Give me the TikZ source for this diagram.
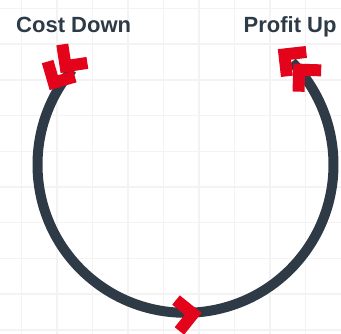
\documentclass[tikz,border=0pt]{standalone}
\usepackage{fontspec}
\setmainfont{Liberation Sans}
\definecolor{darkslate}{HTML}{2E3A46}
\definecolor{chevred}{HTML}{E3031B}
\definecolor{gridgray}{HTML}{F3F3F3}
\begin{document}
\begin{tikzpicture}[x=1pt,y=1pt,
  gridline/.style={draw=gridgray,line width=1.5pt},
  ring/.style={draw=darkslate,line width=10pt,line cap=butt},
  label/.style={font=\bfseries\fontsize{22}{26}\selectfont,text=darkslate,inner sep=0pt},
  chev/.pic={\fill[chevred] (0,0) -- (-19.8,19.8) -- (-28.28,11.31) -- (-16.97,0) -- (-28.28,-11.31) -- (-19.8,-19.8) -- cycle;}]
\fill[white] (0,0) rectangle (341,334);
\useasboundingbox (0,0) rectangle (341,334);
% faint grid
\foreach \i in {0,...,8} {\draw[gridline] (21.3+35.55*\i,0) -- (21.3+35.55*\i,334);}
\foreach \j in {0,...,9} {\draw[gridline] (0,334-8.5-35.7*\j) -- (341,334-8.5-35.7*\j);}
\coordinate (c) at (185.5,169.2);
% ring
\draw[ring] ([shift={(140:148)}]c) arc[start angle=140,end angle=404,radius=148];
% chevrons
\pic[rotate=241.2] at ([shift={(151.2:155)}]c) {chev};
\pic[rotate=233.7] at ([shift={(143.7:155)}]c) {chev};
\pic[rotate=6.2] at ([shift={(276.2:149)}]c) {chev};
\pic[rotate=133.2] at ([shift={(43.2:148)}]c) {chev};
\pic[rotate=141.4] at ([shift={(51.4:148)}]c) {chev};
% labels
\node[label,anchor=base west] (cost) at (16,301.5) {Cost Down};
\node[label,anchor=base west] (profit) at (243.5,301.5) {Profit Up};
\end{tikzpicture}
\end{document}
